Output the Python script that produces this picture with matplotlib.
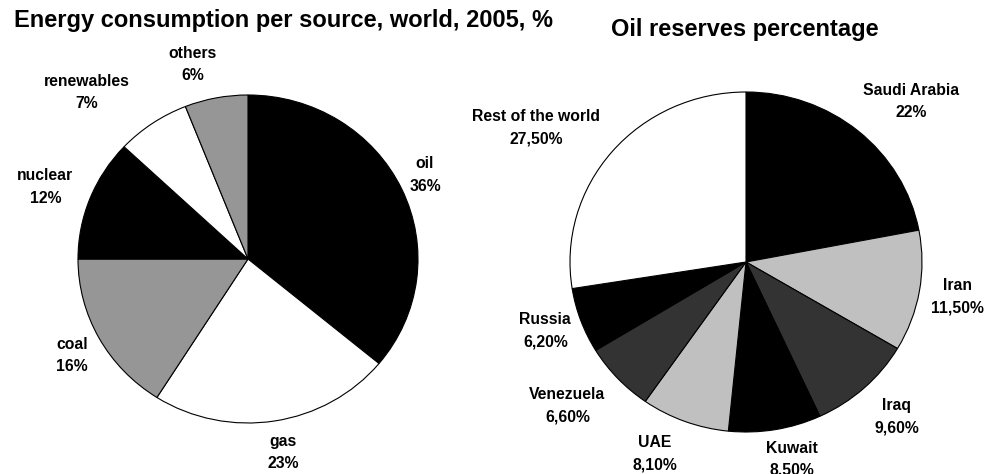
import numpy as np
import matplotlib.pyplot as plt

plt.rcParams['font.family'] = ['Liberation Sans', 'DejaVu Sans']

# energy consumption per source, world, 2005
energy_labels = ['oil', 'gas', 'coal', 'nuclear', 'renewables', 'others']
energy_pct = [36, 23, 16, 12, 7, 6]
energy_text = ['36%', '23%', '16%', '12%', '7%', '6%']
energy_colors = ['black', 'white', '#969696', 'black', 'white', '#969696']
# label placement: distance from centre (radii), angle shift from slice middle (deg)
energy_dist = [1.16, 1.20, 1.19, 1.27, 1.39, 1.23]
energy_shift = [1.0, 0.9, 0.9, 1.4, 8.9, 4.5]

# oil reserves
oil_labels = ['Saudi Arabia', 'Iran', 'Iraq', 'Kuwait', 'UAE', 'Venezuela',
              'Russia', 'Rest of the world']
oil_pct = [22, 11.5, 9.6, 8.5, 8.1, 6.6, 6.2, 27.5]
oil_text = ['22%', '11,50%', '9,60%', '8,50%', '8,10%', '6,60%', '6,20%', '27,50%']
oil_colors = ['black', '#c0c0c0', '#333333', 'black', '#c0c0c0', '#333333',
              'black', 'white']
oil_dist = [1.33, 1.22, 1.25, 1.19, 1.24, 1.32, 1.21, 1.43]
oil_shift = [-5.3, 0.2, 1.2, 3.1, -4.4, -3.4, -0.6, 6.9]

W, H = 986, 474
fig = plt.figure(figsize=(W / 100, H / 100), dpi=100)


def make_axes(cx, cy, rx, ry, lim=1.6):
    # place an axes so that the unit circle maps to an ellipse at (cx, cy) px
    left = (cx - lim * rx) / W
    bottom = (H - cy - lim * ry) / H
    ax = fig.add_axes([left, bottom, 2 * lim * rx / W, 2 * lim * ry / H])
    return ax, lim


def draw_pie(ax, lim, values, names, texts, colors, dists, shifts):
    wedges, _ = ax.pie(values, colors=colors, startangle=90, counterclock=False,
                       wedgeprops=dict(edgecolor='black', linewidth=0.8))
    for w, name, t, d, s in zip(wedges, names, texts, dists, shifts):
        ang = np.deg2rad((w.theta1 + w.theta2) / 2 + s)
        ax.text(d * np.cos(ang), d * np.sin(ang), name + '\n' + t,
                ha='center', va='center', fontsize=11.3, fontweight='bold',
                linespacing=1.6, clip_on=False)
    ax.set_aspect('auto')
    ax.set_xlim(-lim, lim)
    ax.set_ylim(-lim, lim)
    ax.axis('off')


ax1, lim = make_axes(248, 259, 170, 164)
draw_pie(ax1, lim, energy_pct, energy_labels, energy_text, energy_colors,
         energy_dist, energy_shift)

ax2, lim = make_axes(746, 262, 176, 170)
draw_pie(ax2, lim, oil_pct, oil_labels, oil_text, oil_colors, oil_dist, oil_shift)

fig.text(283 / W, 1 - 27 / H, 'Energy consumption per source, world, 2005, %',
         ha='center', va='baseline', fontsize=17, fontweight='bold')
fig.text(745 / W, 1 - 36 / H, 'Oil reserves percentage',
         ha='center', va='baseline', fontsize=17, fontweight='bold')

fig.savefig('out.png', dpi=100)
